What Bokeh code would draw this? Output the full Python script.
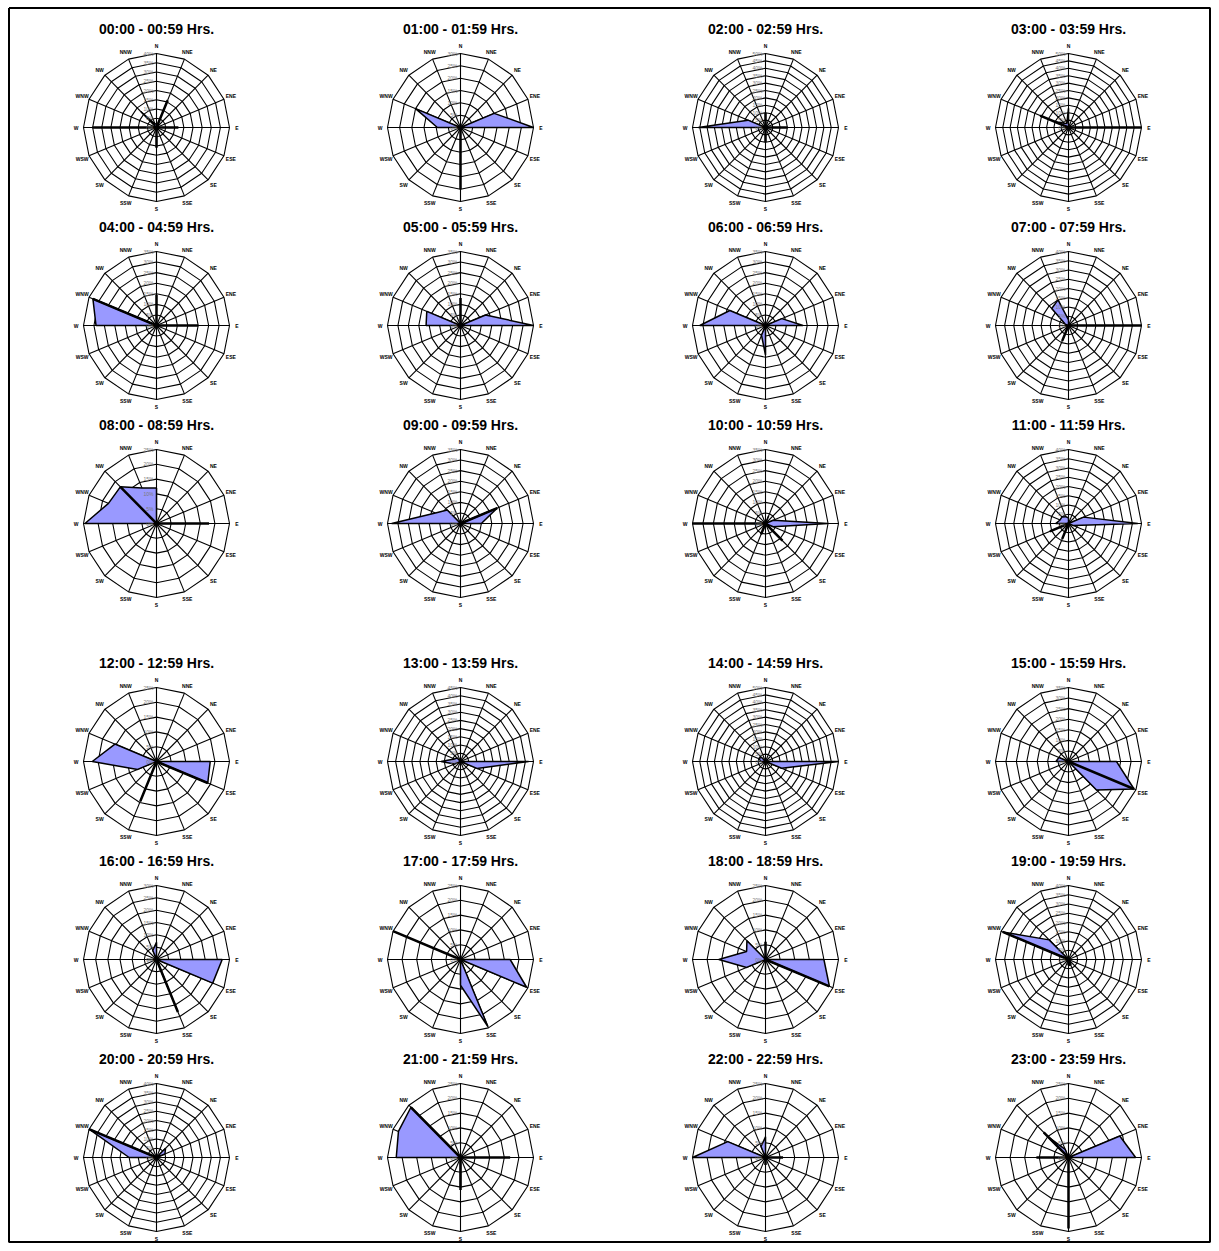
import numpy as np
from bokeh.plotting import figure
from bokeh.models import Range1d
from bokeh.embed import file_html
from bokeh.resources import INLINE
from bokeh.core.properties import value

# ---------------- data ----------------
directions = ["N", "NNE", "NE", "ENE", "E", "ESE", "SE", "SSE",
              "S", "SSW", "SW", "WSW", "W", "WNW", "NW", "NNW"]

titles = ["00:00 - 00:59 Hrs.", "01:00 - 01:59 Hrs.", "02:00 - 02:59 Hrs.", "03:00 - 03:59 Hrs.",
          "04:00 - 04:59 Hrs.", "05:00 - 05:59 Hrs.", "06:00 - 06:59 Hrs.", "07:00 - 07:59 Hrs.",
          "08:00 - 08:59 Hrs.", "09:00 - 09:59 Hrs.", "10:00 - 10:59 Hrs.", "11:00 - 11:59 Hrs.",
          "12:00 - 12:59 Hrs.", "13:00 - 13:59 Hrs.", "14:00 - 14:59 Hrs.", "15:00 - 15:59 Hrs.",
          "16:00 - 16:59 Hrs.", "17:00 - 17:59 Hrs.", "18:00 - 18:59 Hrs.", "19:00 - 19:59 Hrs.",
          "20:00 - 20:59 Hrs.", "21:00 - 21:59 Hrs.", "22:00 - 22:59 Hrs.", "23:00 - 23:59 Hrs."]

# outer ring value (%) of each rose, rings every 5 %
scale_max = [40, 30, 50, 50, 35, 35, 35, 40, 25, 35, 35, 40,
             25, 45, 50, 35, 30, 25, 25, 40, 40, 25, 25, 25]

# filled series (% frequency), order = directions
#          N  NNE NE ENE  E  ESE  SE SSE  S  SSW SW WSW  W  WNW  NW NNW
fill_00 = [2, 0, 0, 0, 0, 0, 0, 0, 0, 0, 0, 0, 0, 0, 12, 2]
fill_01 = [0, 0, 0, 15, 30, 0, 0, 0, 0, 0, 0, 0, 9.5, 20, 0, 0]
fill_02 = [0, 0, 0, 0, 0, 0, 0, 0, 0, 0, 0, 0, 46, 13, 0, 0]
fill_03 = [13, 0, 0, 0, 0, 0, 0, 0, 0, 0, 0, 0, 0, 10, 4, 3]
fill_04 = [0, 0, 0, 0, 0, 0, 0, 0, 0, 0, 0, 0, 29, 33, 0, 0]
fill_05 = [0, 0, 0, 13, 35, 0, 0, 0, 0, 0, 0, 0, 16.5, 17.5, 0, 0]
fill_06 = [0, 0, 0, 8.5, 18, 0, 0, 0, 14, 5, 0, 0, 31.5, 18.5, 0, 0]
fill_07 = [3, 0, 0, 0, 0, 0, 0, 0, 0, 2, 0, 0, 0, 2, 13, 15]
fill_08 = [12, 0, 0, 0, 0, 0, 0, 0, 0, 0, 0, 0, 24.5, 17.8, 17.5, 13]
fill_09 = [0, 0, 0, 19, 10, 0, 0, 0, 0, 0, 0, 0, 33, 13, 9, 0]
fill_10 = [0, 4, 0, 4, 30, 4, 0, 0, 0, 0, 0, 0, 0, 0, 0, 0]
fill_11 = [3, 0, 0, 9, 38, 3, 0, 0, 0, 0, 0, 0, 7, 5, 5, 4]
fill_12 = [0, 0, 0, 0, 18.4, 19, 0, 0, 0, 0, 0, 7, 22, 15.4, 0, 0]
fill_13 = [0, 0, 0, 0, 42, 11, 0, 0, 0, 0, 0, 4, 12, 4, 3, 0]
fill_14 = [0, 0, 0, 0, 50, 12, 0, 0, 0, 0, 0, 0, 3, 5, 4, 0]
fill_15 = [0, 0, 0, 0, 23, 34, 19, 0, 0, 0, 0, 0, 6, 5, 0, 0]
fill_16 = [7, 0, 0, 0, 27, 25, 0, 12, 0, 0, 0, 0, 4, 0, 0, 4]
fill_17 = [0, 0, 0, 0, 17, 24.5, 0, 24.5, 8.7, 0, 0, 0, 0, 0, 0, 0]
fill_18 = [0, 0, 0, 0, 20, 23.7, 0, 0, 3.5, 0, 0, 7, 16, 7, 9, 0]
fill_19 = [0, 0, 0, 0, 0, 0, 0, 0, 0, 0, 0, 0, 0, 39, 15, 0]
fill_20 = [0, 0, 7, 5, 0, 0, 0, 0, 0, 0, 0, 0, 15, 40, 0, 0]
fill_21 = [0, 0, 0, 0, 0, 0, 0, 0, 10, 0, 0, 0, 22, 23, 24, 0]
fill_22 = [7, 0, 0, 0, 0, 0, 0, 0, 0, 0, 0, 0, 25, 14, 0, 4]
fill_23 = [0, 0, 0, 19, 23, 0, 0, 0, 0, 0, 0, 0, 0, 0, 10, 3]

# line series (%), order = directions
#          N  NNE NE ENE  E  ESE  SE SSE  S  SSW SW WSW  W  WNW  NW NNW
line_00 = [0, 16, 0, 0, 12, 0, 0, 0, 11, 0, 0, 0, 35, 0, 0, 0]
line_01 = [0, 0, 0, 0, 0, 0, 0, 0, 25, 0, 0, 0, 0, 0, 0, 0]
line_02 = [10, 0, 0, 0, 15, 0, 0, 0, 10, 0, 0, 0, 0, 0, 0, 0]
line_03 = [0, 0, 0, 0, 50, 0, 0, 0, 0, 0, 0, 0, 0, 21, 0, 0]
line_04 = [14.5, 0, 0, 0, 20, 0, 0, 0, 0, 0, 0, 0, 0, 33, 0, 0]
line_05 = [13, 0, 0, 0, 0, 0, 0, 0, 0, 0, 0, 0, 0, 0, 0, 0]
line_06 = [0, 0, 0, 0, 0, 0, 0, 0, 0, 0, 0, 0, 0, 0, 0, 0]
line_07 = [0, 0, 0, 0, 40, 0, 0, 0, 0, 9, 0, 0, 0, 0, 0, 0]
line_08 = [0, 0, 0, 0, 18, 0, 0, 0, 0, 0, 0, 0, 0, 0, 17.5, 0]
line_09 = [0, 0, 0, 19, 0, 0, 0, 0, 0, 0, 0, 0, 0, 0, 0, 0]
line_10 = [0, 0, 0, 0, 0, 0, 11.5, 0, 0, 5.6, 0, 0, 35, 0, 0, 0]
line_11 = [0, 0, 0, 0, 0, 0, 0, 0, 0, 9, 0, 11, 0, 0, 0, 0]
line_12 = [0, 0, 0, 0, 0, 19, 0, 0, 0, 14.5, 0, 0, 0, 0, 0, 0]
line_13 = [0, 0, 0, 0, 0, 0, 0, 0, 0, 0, 0, 0, 0, 0, 0, 0]
line_14 = [0, 0, 0, 0, 0, 0, 0, 0, 0, 0, 0, 0, 0, 0, 0, 0]
line_15 = [0, 0, 0, 0, 0, 34, 0, 0, 0, 0, 0, 0, 0, 0, 0, 0]
line_16 = [0, 0, 0, 0, 0, 0, 0, 23, 0, 0, 0, 0, 0, 0, 0, 0]
line_17 = [0, 0, 0, 0, 0, 0, 0, 0, 0, 0, 0, 0, 0, 25, 0, 0]
line_18 = [6, 0, 0, 0, 0, 23.7, 0, 0, 0, 0, 0, 0, 0, 0, 0, 0]
line_19 = [0, 0, 0, 0, 0, 0, 0, 3, 3, 0, 0, 0, 0, 39, 0, 0]
line_20 = [0, 0, 0, 0, 0, 0, 0, 0, 0, 0, 0, 0, 0, 40, 0, 0]
line_21 = [0, 0, 0, 0, 17, 0, 0, 0, 11, 0, 0, 0, 0, 0, 24, 0]
line_22 = [0, 0, 0, 0, 6, 0, 0, 0, 2.5, 0, 0, 0, 0, 0, 0, 0]
line_23 = [0, 0, 0, 0, 0, 0, 0, 0, 24, 0, 0, 0, 11, 0, 12, 0]

fills = [fill_00, fill_01, fill_02, fill_03, fill_04, fill_05, fill_06, fill_07,
         fill_08, fill_09, fill_10, fill_11, fill_12, fill_13, fill_14, fill_15,
         fill_16, fill_17, fill_18, fill_19, fill_20, fill_21, fill_22, fill_23]
lines = [line_00, line_01, line_02, line_03, line_04, line_05, line_06, line_07,
         line_08, line_09, line_10, line_11, line_12, line_13, line_14, line_15,
         line_16, line_17, line_18, line_19, line_20, line_21, line_22, line_23]

# ---------------- layout (1 range unit = 1 px) ----------------
W_FIG, H_FIG = 1211, 1243
col_cx = [156, 460, 765, 1068]
row_cy = [127, 325, 523, 761, 959, 1157]
RX, RY = 73.0, 74.0
FONT = "Liberation Sans"

p = figure(width=W_FIG, height=H_FIG, x_range=Range1d(0, W_FIG), y_range=Range1d(H_FIG, 0),
           output_backend="svg", toolbar_location=None, min_border=0)
p.axis.visible = False
p.grid.visible = False
p.outline_line_color = None
p.background_fill_color = "white"
p.border_fill_color = "white"

# page frame
frame_x = [8.5, W_FIG - 1.5, W_FIG - 1.5, 8.5, 8.5]
frame_y = [7.5, 7.5, H_FIG - 1.5, H_FIG - 1.5, 7.5]
p.line(frame_x, frame_y, line_color="black", line_width=2)

ang = np.deg2rad(90 - 22.5 * np.arange(16))
ux = np.cos(ang)
uy = -np.sin(ang)
uxc = np.append(ux, ux[0])
uyc = np.append(uy, uy[0])

grid_xs, grid_ys = [], []
fill_xs, fill_ys = [], []
line_xs, line_ys = [], []
t_x, t_y, t_text = [], [], []
d_x, d_y, d_text = [], [], []
r_x, r_y, r_text = [], [], []

for h in range(24):
    cx = col_cx[h % 4]
    cy = row_cy[h // 4]
    vmax = scale_max[h]
    n = int(round(vmax / 5))
    for k in range(1, n + 1):
        f = k / n
        grid_xs.append(list(cx + RX * f * uxc))
        grid_ys.append(list(cy + RY * f * uyc))
    for i in range(16):
        grid_xs.append([cx, cx + RX * ux[i]])
        grid_ys.append([cy, cy + RY * uy[i]])
    fv = np.array(fills[h], dtype=float) / vmax
    fill_xs.append(list(cx + RX * fv * ux))
    fill_ys.append(list(cy + RY * fv * uy))
    lv = np.array(lines[h], dtype=float) / vmax
    if lv.max() > 0:
        lvc = np.append(lv, lv[0])
        line_xs.append(list(cx + RX * lvc * uxc))
        line_ys.append(list(cy + RY * lvc * uyc))
    t_x.append(cx)
    t_y.append(cy - 99)
    t_text.append(titles[h])
    for i, d in enumerate(directions):
        d_x.append(cx + (RX + 7.5) * ux[i])
        d_y.append(cy + (RY + 7.5) * uy[i])
        d_text.append(d)
    for k in range(0, n + 1):
        r_x.append(cx - 3)
        r_y.append(cy - RY * k / n)
        r_text.append(f"{5 * k}%")

p.multi_line(grid_xs, grid_ys, line_color="black", line_width=1.1)
p.patches(fill_xs, fill_ys, fill_color="#9999FF", line_color="black", line_width=1.5)
p.multi_line(line_xs, line_ys, line_color="black", line_width=2.5)

p.text(x=r_x, y=r_y, text=r_text, text_font=value(FONT), text_font_size="5px",
       text_color="#7a7a7a", text_align="right", text_baseline="middle")
p.text(x=d_x, y=d_y, text=d_text, text_font=value(FONT), text_font_size="5px",
       text_font_style="bold", text_color="black", text_align="center", text_baseline="middle")
p.text(x=t_x, y=t_y, text=t_text, text_font=value(FONT), text_font_size="14px",
       text_font_style="bold", text_color="black", text_align="center", text_baseline="middle")

open("out.html", "w").write(file_html(p, INLINE))
